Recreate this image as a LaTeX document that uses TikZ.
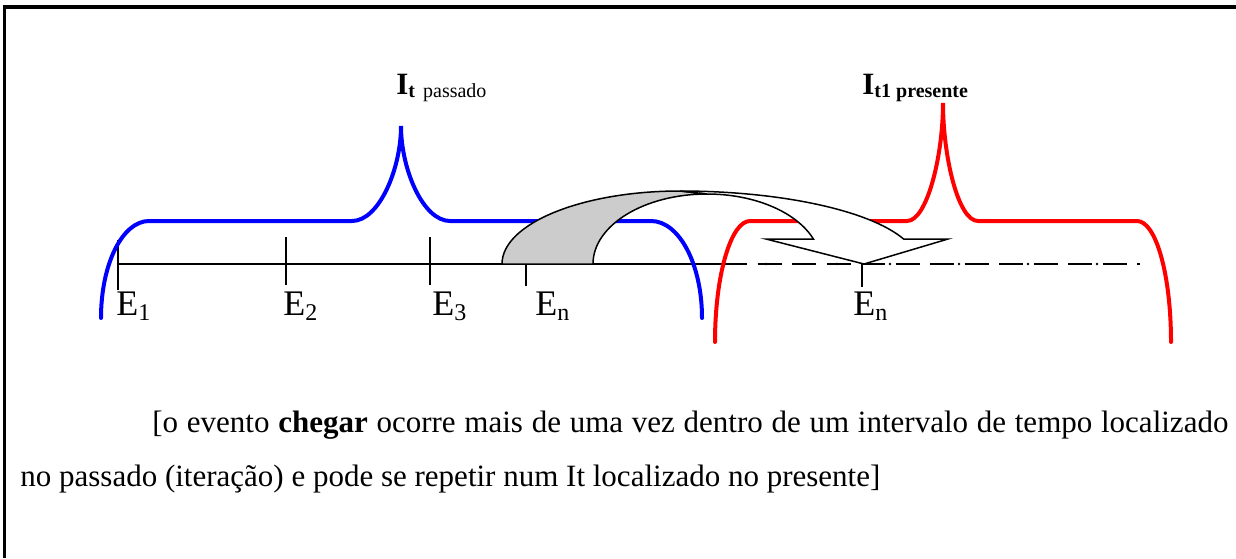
\documentclass[tikz,border=0pt]{standalone}
\usepackage{fontspec}
\setmainfont{Liberation Serif}
\begin{document}
\begin{tikzpicture}[x=0.5pt,y=-0.5pt,
  brace/.style={line width=2pt, line cap=round},
  blk/.style={line width=0.75pt, line join=miter},
  tickmark/.style={line width=1pt},
  lbl/.style={anchor=base west, inner sep=0pt},
  dashaxis/.style={line width=0.75pt, dash pattern=on 12pt off 5.25pt},
  dotmark/.style={fill=black, draw=none},
]
\useasboundingbox (0,0) rectangle (1236,558);
% frame (top and left)
\draw[line width=2pt] (3,7) -- (1236,7);
\draw[line width=1.5pt] (4.5,6) -- (4.5,558);

% axis
\coordinate (a0) at (118,264);
\coordinate (a1) at (723,264);
\coordinate (a2) at (1140,264);
\draw[blk] (a0) -- (a1);
\draw[dashaxis] (a1) -- (a2);
\foreach \x in {766,837,890,959,1028,1097} \fill[dotmark] (\x,264) circle[radius=1.4];

% ticks
\draw[tickmark] (118,240) -- (118,290);
\draw[tickmark] (286,237) -- (286,285);
\draw[tickmark] (430,237) -- (430,285);
\draw[tickmark] (526,264) -- (526,286);
\draw[tickmark] (862,264) -- (862,287);

% blue brace (past)
\draw[brace, blue] (101,318) .. controls (101,264) and (122.5,221) .. (149,221)
  -- (352,221) .. controls (379,221) and (401,169) .. (401,126)
  .. controls (401,169) and (423,221) .. (450,221)
  -- (651,221) .. controls (679,221) and (702,264) .. (702,318);

% red brace (present)
\draw[brace, red] (715,342) .. controls (715,275) and (731,221) .. (750,221)
  -- (907,221) .. controls (927,221) and (943,156) .. (943,103)
  .. controls (943,156) and (958,221) .. (978,221)
  -- (1137,221) .. controls (1156,221) and (1171,275) .. (1171,342);

% curved arrow: back (gray)
\draw[blk, fill={rgb,255:red,204;green,204;blue,204}]
  (502,264) .. controls (502,223.7) and (581.7,191) .. (680,191)
  -- (707,194) .. controls (644,194) and (593,225.4) .. (593,264) -- cycle;
% curved arrow: front (white)
\draw[blk, fill=white]
  (680,191) .. controls (780,191) and (869.4,210.2) .. (903.6,239)
  -- (948,239) -- (864,264) -- (766,239) -- (813.4,239)
  .. controls (796.5,211.8) and (754.2,194) .. (707,194) -- cycle;

% labels
\node[lbl] (Ipas) at (396,94) {\fontsize{15.5}{17}\selectfont\bfseries I\raisebox{-1.8pt}{\fontsize{10}{11}\selectfont t\hspace{4pt}\mdseries passado}};
\node[lbl] (Ipre) at (862,94) {\fontsize{15.5}{17}\selectfont\bfseries I\raisebox{-1.8pt}{\fontsize{10}{11}\selectfont t1 presente}};

\node[lbl] (e1) at (116,315) {\fontsize{18}{20}\selectfont E\raisebox{-2.5pt}{\fontsize{12}{13}\selectfont 1}};
\node[lbl] (e2) at (283,315) {\fontsize{18}{20}\selectfont E\raisebox{-2.5pt}{\fontsize{12}{13}\selectfont 2}};
\node[lbl] (e3) at (432,315) {\fontsize{18}{20}\selectfont E\raisebox{-2.5pt}{\fontsize{12}{13}\selectfont 3}};
\node[lbl] (en) at (535,315) {\fontsize{18}{20}\selectfont E\raisebox{-2.5pt}{\fontsize{12}{13}\selectfont n}};
\node[lbl] (en2) at (853,315) {\fontsize{18}{20}\selectfont E\raisebox{-2.5pt}{\fontsize{12}{13}\selectfont n}};

\node[lbl] (cap1) at (152,432) {\fontsize{15.5}{18}\selectfont\makebox[538pt][s]{[o evento \textbf{chegar} ocorre mais de uma vez dentro de um intervalo de tempo localizado}};
\node[lbl] (cap2) at (20,486) {\fontsize{15.5}{18}\selectfont no passado (iteração) e pode se repetir num It localizado no presente]};
\end{tikzpicture}
\end{document}
